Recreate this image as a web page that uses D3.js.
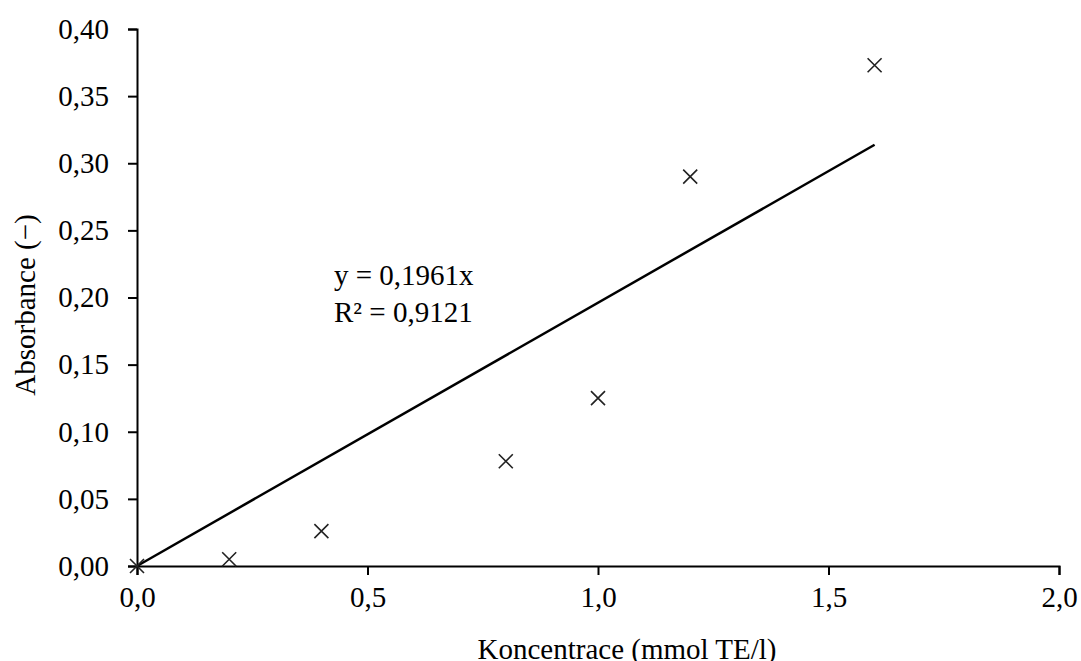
<!DOCTYPE html>
<html>
<head>
<meta charset="utf-8">
<script src="https://cdn.jsdelivr.net/npm/d3@7"></script>
<style>
  body { margin: 0; background: #fff; }
  svg text { font-family: "Liberation Serif", "Times New Roman", serif; fill: #000; }
</style>
</head>
<body>
<div id="chart"></div>
<script>
var width = 1081;
var height = 661;
var margin = {"top": 29, "right": 22, "bottom": 95, "left": 137};

// data
var concentrations = [0, 0.2, 0.4, 0.8, 1.0, 1.2, 1.6];
var absorbances = [0, 0.005, 0.026, 0.078, 0.125, 0.290, 0.373];
var slope = 0.1961;
var rSquared = "0,9121";
var xTicks = [0, 0.5, 1.0, 1.5, 2.0];
var yTicks = [0, 0.05, 0.10, 0.15, 0.20, 0.25, 0.30, 0.35, 0.40];

var comma = function(fmt){
    var f = d3.format(fmt);
    return function(d){ return f(d).replace(".", ","); };
};

var xScale = d3.scaleLinear()
    .domain([0, 2])
    .range([margin.left, width - margin.right]);
var yScale = d3.scaleLinear()
    .domain([0, 0.4])
    .range([height - margin.bottom, margin.top]);

var svg = d3.select("div#chart").append("svg")
    .attr("width", width)
    .attr("height", height);

// axes
var xAxis = d3.axisBottom(xScale)
    .tickValues(xTicks)
    .tickSize(9)
    .tickPadding(11)
    .tickSizeOuter(9)
    .tickFormat(comma(".1f"));
var yAxis = d3.axisLeft(yScale)
    .tickValues(yTicks)
    .tickSize(9)
    .tickPadding(19)
    .tickSizeOuter(9)
    .tickFormat(comma(".2f"));

var gx = svg.append("g")
    .attr("transform", "translate(" + [0, height - margin.bottom] + ")")
    .call(xAxis);
var gy = svg.append("g")
    .attr("transform", "translate(" + [margin.left, 0] + ")")
    .call(yAxis);

[gx, gy].forEach(function(g){
    g.selectAll("path, line").attr("stroke", "#000").attr("stroke-width", 2);
    g.selectAll("text")
        .style("font-family", '"Liberation Serif", serif')
        .style("font-size", "29px")
        .attr("fill", "#000");
});

// trendline
svg.append("line")
    .attr("x1", xScale(0))
    .attr("y1", yScale(0))
    .attr("x2", xScale(1.6))
    .attr("y2", yScale(slope * 1.6))
    .attr("stroke", "#000")
    .attr("stroke-width", 2.5);

// markers
var pts = concentrations.map(function(c, i){ return [c, absorbances[i]]; });
var s = 7;
svg.selectAll("path.mark")
    .data(pts)
    .enter().append("path")
    .attr("class", "mark")
    .attr("d", function(d){
        var x = xScale(d[0]), y = yScale(d[1]);
        return "M" + (x - s) + "," + (y - s) + "L" + (x + s) + "," + (y + s) +
               "M" + (x - s) + "," + (y + s) + "L" + (x + s) + "," + (y - s);
    })
    .attr("stroke", "#222")
    .attr("stroke-width", 1.6)
    .attr("fill", "none");

// equation
svg.append("text")
    .attr("x", 334)
    .attr("y", 285)
    .style("font-size", "29px")
    .text("y = " + comma(".4f")(slope) + "x");
svg.append("text")
    .attr("x", 334)
    .attr("y", 322)
    .style("font-size", "29px")
    .text("R² = " + rSquared);

// axis titles
svg.append("text")
    .attr("x", 627)
    .attr("y", 659)
    .attr("text-anchor", "middle")
    .style("font-size", "29px")
    .text("Koncentrace (mmol TE/l)");
svg.append("text")
    .attr("transform", "translate(35,305) rotate(-90)")
    .attr("text-anchor", "middle")
    .style("font-size", "29px")
    .text("Absorbance (−)");
</script>
</body>
</html>
